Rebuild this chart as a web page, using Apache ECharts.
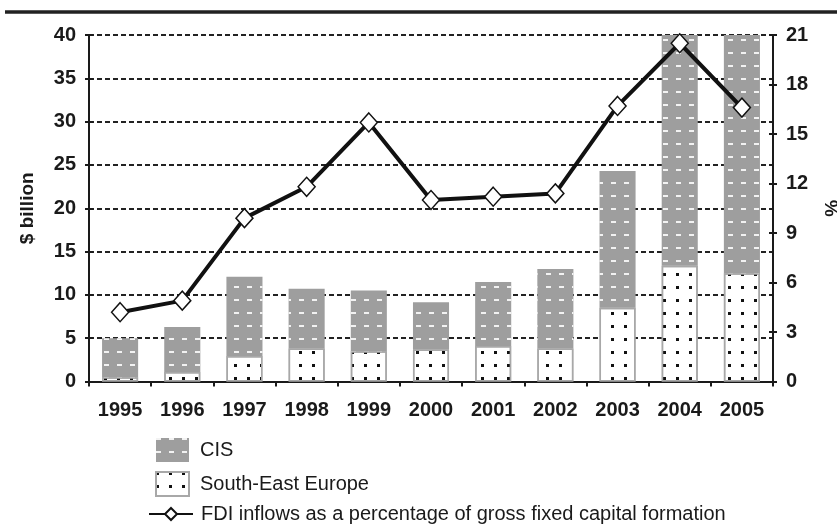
<!DOCTYPE html>
<html>
<head>
<meta charset="utf-8">
<script src="https://cdn.jsdelivr.net/npm/echarts@6/dist/echarts.min.js"></script>
<style>
html,body{margin:0;padding:0;background:#fff;}
#chart{width:837px;height:527px;}
</style>
</head>
<body>
<div id="chart"></div>
<script>
var years = ['1995','1996','1997','1998','1999','2000','2001','2002','2003','2004','2005'];
var cis = [4.5, 5.2, 9.15, 6.9, 7.0, 5.45, 7.4, 9.2, 15.8, 26.65, 27.5];
var see = [0.5, 1.1, 2.95, 3.8, 3.5, 3.7, 4.1, 3.8, 8.5, 13.35, 12.5];
var fdiPct = [4.2, 4.9, 9.9, 11.8, 15.7, 11.0, 11.2, 11.4, 16.7, 20.5, 16.6];
var leftTicks = {min: 0, max: 40, interval: 5};
var rightTicks = {min: 0, max: 21, interval: 3};
var names = ['CIS', 'South-East Europe', 'FDI inflows as a percentage of gross fixed capital formation'];

var ink = '#1a1a1a';
var tickFont = {fontFamily: 'Liberation Sans', fontWeight: 'bold', fontSize: 20, color: ink};
var legendFont = {fontFamily: 'Liberation Sans', fontSize: 20, color: ink};

var chart = echarts.init(document.getElementById('chart'), null, {renderer: 'canvas'});
chart.setOption({
  animation: false,
  backgroundColor: '#fff',
  grid: {left: 89, right: 64, top: 35, bottom: 145.5, containLabel: false, outerBoundsMode: 'none'},
  graphic: [{
    type: 'line', shape: {x1: 5, y1: 12, x2: 837, y2: 12},
    style: {stroke: '#222', lineWidth: 3.5}
  }],
  legend: [{
    data: [names[0], names[1]],
    orient: 'vertical', left: 155, top: 438, padding: 0,
    itemWidth: 33, itemHeight: 24, itemGap: 9,
    icon: 'rect',
    textStyle: Object.assign({padding: [0, 0, 0, 6]}, legendFont)
  }, {
    data: [names[2]],
    orient: 'vertical', left: 148, top: 504, padding: 0,
    itemWidth: 44, itemHeight: 15,
    textStyle: Object.assign({padding: [0, 0, 0, 3]}, legendFont)
  }],
  xAxis: [{
    type: 'category', data: years, position: 'bottom', boundaryGap: true,
    axisLine: {show: true, lineStyle: {color: ink, width: 2}},
    axisTick: {show: true, alignWithLabel: false, length: 5, lineStyle: {color: ink, width: 2}},
    axisLabel: Object.assign({interval: 0, margin: 19}, tickFont),
    splitLine: {show: false}
  }, {
    type: 'category', data: years, position: 'top', boundaryGap: true,
    axisLine: {show: true, lineStyle: {color: ink, width: 2}},
    axisTick: {show: false}, axisLabel: {show: false}, splitLine: {show: false}
  }],
  yAxis: [{
    type: 'value', position: 'left', min: leftTicks.min, max: leftTicks.max, interval: leftTicks.interval,
    name: '$ billion', nameLocation: 'middle', nameGap: 52, nameRotate: 90,
    nameTextStyle: {fontFamily: 'Liberation Sans', fontWeight: 'bold', fontSize: 19, color: ink},
    axisLine: {show: true, lineStyle: {color: ink, width: 2}},
    axisTick: {show: true, inside: false, length: 4, lineStyle: {color: ink, width: 2}},
    axisLabel: Object.assign({margin: 13}, tickFont),
    splitLine: {show: true, lineStyle: {color: '#222', width: 2, type: [5, 3]}}
  }, {
    type: 'value', position: 'right', min: rightTicks.min, max: rightTicks.max, interval: rightTicks.interval,
    name: '%', nameLocation: 'middle', nameGap: 50, nameRotate: 90,
    nameTextStyle: {fontFamily: 'Liberation Sans', fontWeight: 'bold', fontSize: 19, color: ink},
    axisLine: {show: true, lineStyle: {color: ink, width: 2}},
    axisTick: {show: true, inside: false, length: 4, lineStyle: {color: ink, width: 2}},
    axisLabel: Object.assign({margin: 13}, tickFont),
    splitLine: {show: false}
  }, {
    type: 'value', position: 'left', offset: 0, min: leftTicks.min, max: leftTicks.max, interval: leftTicks.interval,
    axisLine: {show: false},
    axisTick: {show: true, inside: true, length: 4, lineStyle: {color: ink, width: 2}},
    axisLabel: {show: false}, splitLine: {show: false}
  }, {
    type: 'value', position: 'right', offset: 0, min: rightTicks.min, max: rightTicks.max, interval: rightTicks.interval,
    axisLine: {show: false},
    axisTick: {show: true, inside: true, length: 4, lineStyle: {color: ink, width: 2}},
    axisLabel: {show: false}, splitLine: {show: false}
  }],
  series: [{
    name: names[1], type: 'bar', stack: 'total', data: see, barWidth: '58%',
    itemStyle: {
      color: '#ffffff', borderColor: '#a8a8a8', borderWidth: 1.5,
      decal: {symbol: 'rect', color: '#111', dashArrayX: [3, 10], dashArrayY: [3, 10], symbolSize: 1}
    }
  }, {
    name: names[0], type: 'bar', stack: 'total', data: cis, barWidth: '58%',
    itemStyle: {
      color: '#9e9e9e',
      decal: {symbol: 'rect', color: '#f2f2f2', dashArrayX: [5, 8], dashArrayY: [2, 11], symbolSize: 1}
    }
  }, {
    name: names[2], type: 'line', yAxisIndex: 1, data: fdiPct, z: 5,
    symbol: 'diamond', symbolSize: [17, 19],
    lineStyle: {color: '#111', width: 4},
    itemStyle: {color: '#ffffff', borderColor: '#111', borderWidth: 1.5}
  }]
});
</script>
</body>
</html>
